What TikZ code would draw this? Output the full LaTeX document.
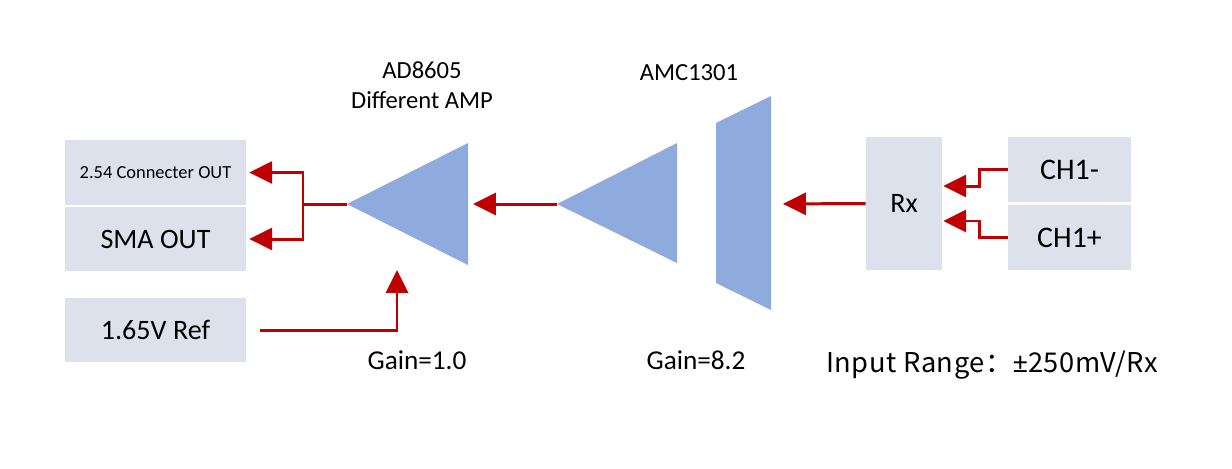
\documentclass[tikz,border=0pt]{standalone}
\usepackage{fontspec}
\setmainfont{Carlito}
\newfontfamily\cjkfont[LetterSpace=2]{Noto Sans CJK SC}
\newfontfamily\signfont{Noto Sans}
\usetikzlibrary{arrows.meta}
\definecolor{BoxGray}{HTML}{DDE1EB}
\definecolor{AmpBlue}{HTML}{8FAADC}
\definecolor{SignalRed}{HTML}{C00000}

\begin{document}
\begin{tikzpicture}[x=0.02cm, y=-0.02cm,
    box/.style={fill=BoxGray, inner sep=0pt, minimum width=3.62cm, font=\fontsize{16}{18}\selectfont},
    arr/.style={-{Triangle[length=13pt,width=12.5pt]}, draw=SignalRed, line width=1.7pt},
    wire/.style={draw=SignalRed, line width=1.7pt},
    lbl/.style={font=\fontsize{14}{16}\selectfont, inner sep=0pt, anchor=base},
    gain/.style={font=\fontsize{15.5}{17}\selectfont, inner sep=0pt, anchor=base}
  ]
  \useasboundingbox (0,0) rectangle (1232,468);

  \node[box, minimum height=1.3cm, font=\fontsize{10.5}{12}\selectfont] (conn) at (155.5,172.5) {2.54 Connecter OUT};
  \node[box, minimum height=1.28cm] (sma) at (155.5,239) {SMA OUT};
  \node[box, minimum height=1.28cm] (ref) at (155.5,330) {1.65V Ref};
  \node[box, minimum width=1.52cm, minimum height=2.66cm] (rx) at (904,203.5) {Rx};
  \node[box, minimum width=2.46cm, minimum height=1.3cm, font=\fontsize{17}{19}\selectfont] (chm) at (1069.5,169.5) {CH1-};
  \node[box, minimum width=2.46cm, minimum height=1.3cm, font=\fontsize{17}{19}\selectfont] (chp) at (1069.5,237.5) {CH1+};

  % amplifiers and isolator
  \fill[AmpBlue] (347,204) -- (468,143) -- (468,265) -- cycle;
  \fill[AmpBlue] (557,204) -- (677,143) -- (677,263) -- cycle;
  \fill[AmpBlue] (716,123) -- (771,96) -- (771,310) -- (716,283) -- cycle;
  \coordinate (adOut) at (347,204);
  \coordinate (adIn) at (468,204);
  \coordinate (adRef) at (397,270);
  \coordinate (amcOut) at (557,204);
  \coordinate (isoIn) at (771,204);
  \coordinate (split) at (303,204);

  \draw[arr, shorten >=0.24cm] (rx.west) -- (isoIn);
  \draw[arr, shorten >=0.1cm] (amcOut) -- (adIn);
  \draw[wire] (adOut) -- (split);
  \draw[arr, shorten >=0.06cm] (split) |- (conn.east);
  \draw[arr, shorten >=0.06cm] (split) |- (sma.east);
  \draw[arr, shorten <=0.28cm] (ref.east) -| (adRef);
  \draw[arr, shorten >=0.02cm] (chm.west) -- ++(-28,0) |- ([yshift=0.35cm]rx.east);
  \draw[arr, shorten >=0.02cm] (chp.west) -- ++(-28,0) |- ([yshift=-0.35cm]rx.east);

  \node[lbl] (adName) at (422,78) {AD8605};
  \node[lbl] (adDesc) at (422,108) {Different AMP};
  \node[lbl] (amcName) at (689,80) {AMC1301};
  \node[gain] (adGain) at (417,369) {Gain=1.0};
  \node[gain] (amcGain) at (696,369) {Gain=8.2};
  \node[inner sep=0pt, anchor=base, font=\cjkfont\fontsize{15.5}{17}\selectfont] (range) at (992,372) {Input Range：{\signfont ±}250mV/Rx};
\end{tikzpicture}
\end{document}
